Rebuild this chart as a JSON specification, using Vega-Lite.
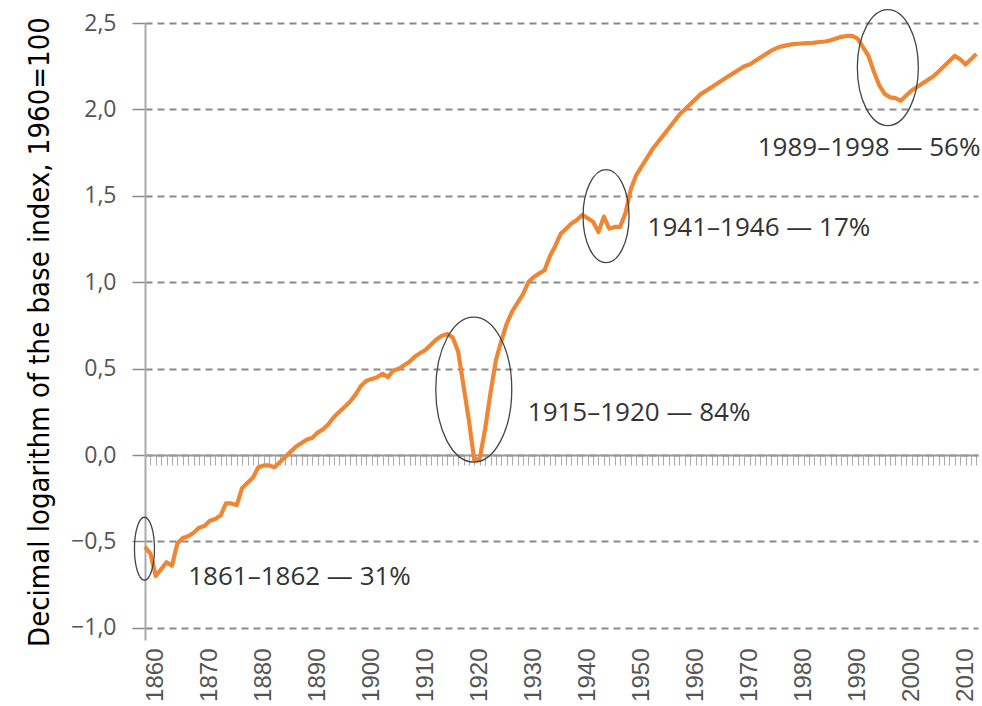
{
  "$schema": "https://vega.github.io/schema/vega-lite/v6.json",
  "width": 833,
  "height": 617,
  "autosize": {"type": "none"},
  "padding": {"left": 145, "top": 23, "right": 4, "bottom": 66},
  "background": "white",
  "config": {"view": {"stroke": null}},
  "datasets": {
    "series": [
      {"year": 1858, "value": -0.53}, {"year": 1859, "value": -0.57}, {"year": 1860, "value": -0.70}, {"year": 1861, "value": -0.66},
      {"year": 1862, "value": -0.62}, {"year": 1863, "value": -0.64}, {"year": 1864, "value": -0.51}, {"year": 1865, "value": -0.48},
      {"year": 1866, "value": -0.47}, {"year": 1867, "value": -0.45}, {"year": 1868, "value": -0.42}, {"year": 1869, "value": -0.41},
      {"year": 1870, "value": -0.38}, {"year": 1871, "value": -0.37}, {"year": 1872, "value": -0.35}, {"year": 1873, "value": -0.28},
      {"year": 1874, "value": -0.28}, {"year": 1875, "value": -0.29}, {"year": 1876, "value": -0.19}, {"year": 1877, "value": -0.16},
      {"year": 1878, "value": -0.13}, {"year": 1879, "value": -0.07}, {"year": 1880, "value": -0.06}, {"year": 1881, "value": -0.06},
      {"year": 1882, "value": -0.07}, {"year": 1883, "value": -0.04}, {"year": 1884, "value": -0.01}, {"year": 1885, "value": 0.02},
      {"year": 1886, "value": 0.05}, {"year": 1887, "value": 0.07}, {"year": 1888, "value": 0.09}, {"year": 1889, "value": 0.10},
      {"year": 1890, "value": 0.13}, {"year": 1891, "value": 0.15}, {"year": 1892, "value": 0.18}, {"year": 1893, "value": 0.22},
      {"year": 1894, "value": 0.25}, {"year": 1895, "value": 0.28}, {"year": 1896, "value": 0.31}, {"year": 1897, "value": 0.35},
      {"year": 1898, "value": 0.40}, {"year": 1899, "value": 0.43}, {"year": 1900, "value": 0.44}, {"year": 1901, "value": 0.45},
      {"year": 1902, "value": 0.47}, {"year": 1903, "value": 0.45}, {"year": 1904, "value": 0.49}, {"year": 1905, "value": 0.50},
      {"year": 1906, "value": 0.52}, {"year": 1907, "value": 0.54}, {"year": 1908, "value": 0.57}, {"year": 1909, "value": 0.59},
      {"year": 1910, "value": 0.61}, {"year": 1911, "value": 0.64}, {"year": 1912, "value": 0.67}, {"year": 1913, "value": 0.69},
      {"year": 1914, "value": 0.70}, {"year": 1915, "value": 0.68}, {"year": 1916, "value": 0.60}, {"year": 1917, "value": 0.40},
      {"year": 1918, "value": 0.20}, {"year": 1919, "value": -0.03}, {"year": 1920, "value": -0.02}, {"year": 1921, "value": 0.15},
      {"year": 1922, "value": 0.36}, {"year": 1923, "value": 0.55}, {"year": 1924, "value": 0.66}, {"year": 1925, "value": 0.76},
      {"year": 1926, "value": 0.83}, {"year": 1927, "value": 0.88}, {"year": 1928, "value": 0.93}, {"year": 1929, "value": 1.00},
      {"year": 1930, "value": 1.03}, {"year": 1931, "value": 1.05}, {"year": 1932, "value": 1.07}, {"year": 1933, "value": 1.15},
      {"year": 1934, "value": 1.21}, {"year": 1935, "value": 1.28}, {"year": 1936, "value": 1.31}, {"year": 1937, "value": 1.34},
      {"year": 1938, "value": 1.36}, {"year": 1939, "value": 1.39}, {"year": 1940, "value": 1.37}, {"year": 1941, "value": 1.35},
      {"year": 1942, "value": 1.29}, {"year": 1943, "value": 1.38}, {"year": 1944, "value": 1.31}, {"year": 1945, "value": 1.32},
      {"year": 1946, "value": 1.32}, {"year": 1947, "value": 1.40}, {"year": 1948, "value": 1.54}, {"year": 1949, "value": 1.62},
      {"year": 1950, "value": 1.67}, {"year": 1951, "value": 1.72}, {"year": 1952, "value": 1.77}, {"year": 1953, "value": 1.81},
      {"year": 1954, "value": 1.85}, {"year": 1955, "value": 1.89}, {"year": 1956, "value": 1.93}, {"year": 1957, "value": 1.97},
      {"year": 1958, "value": 2.00}, {"year": 1959, "value": 2.03}, {"year": 1960, "value": 2.06}, {"year": 1961, "value": 2.09},
      {"year": 1962, "value": 2.11}, {"year": 1963, "value": 2.13}, {"year": 1964, "value": 2.15}, {"year": 1965, "value": 2.17},
      {"year": 1966, "value": 2.19}, {"year": 1967, "value": 2.21}, {"year": 1968, "value": 2.23}, {"year": 1969, "value": 2.25},
      {"year": 1970, "value": 2.26}, {"year": 1971, "value": 2.28}, {"year": 1972, "value": 2.30}, {"year": 1973, "value": 2.32},
      {"year": 1974, "value": 2.34}, {"year": 1975, "value": 2.355}, {"year": 1976, "value": 2.365}, {"year": 1977, "value": 2.372},
      {"year": 1978, "value": 2.378}, {"year": 1979, "value": 2.38}, {"year": 1980, "value": 2.382}, {"year": 1981, "value": 2.383},
      {"year": 1982, "value": 2.386}, {"year": 1983, "value": 2.39}, {"year": 1984, "value": 2.393}, {"year": 1985, "value": 2.40},
      {"year": 1986, "value": 2.41}, {"year": 1987, "value": 2.42}, {"year": 1988, "value": 2.425}, {"year": 1989, "value": 2.425},
      {"year": 1990, "value": 2.41}, {"year": 1991, "value": 2.36}, {"year": 1992, "value": 2.31}, {"year": 1993, "value": 2.22},
      {"year": 1994, "value": 2.14}, {"year": 1995, "value": 2.09}, {"year": 1996, "value": 2.07}, {"year": 1997, "value": 2.065},
      {"year": 1998, "value": 2.05}, {"year": 1999, "value": 2.08}, {"year": 2000, "value": 2.11}, {"year": 2001, "value": 2.13},
      {"year": 2002, "value": 2.15}, {"year": 2003, "value": 2.17}, {"year": 2004, "value": 2.19}, {"year": 2005, "value": 2.22},
      {"year": 2006, "value": 2.25}, {"year": 2007, "value": 2.28}, {"year": 2008, "value": 2.31}, {"year": 2009, "value": 2.29},
      {"year": 2010, "value": 2.26}, {"year": 2011, "value": 2.29}, {"year": 2012, "value": 2.32}
    ],
    "ellipses": [
      {"period": "1861–1862", "year": 1857.9, "value": -0.542},
      {"period": "1915–1920", "year": 1918.9, "value": 0.379},
      {"period": "1941–1946", "year": 1943.4, "value": 1.382},
      {"period": "1989–1998", "year": 1995.6, "value": 2.242}
    ],
    "notes": [
      {"label": "1861–1862 — 31%", "year": 1866.0, "value": -0.705},
      {"label": "1915–1920 — 84%", "year": 1928.9, "value": 0.243},
      {"label": "1941–1946 — 17%", "year": 1951.1, "value": 1.315},
      {"label": "1989–1998 — 56%", "year": 1971.5, "value": 1.779}
    ]
  },
  "layer": [
    {
      "data": {"name": "series"},
      "mark": {"type": "line", "color": "#EF8633", "strokeWidth": 4.2, "strokeJoin": "round"},
      "encoding": {
        "x": {
          "field": "year", "type": "quantitative",
          "scale": {"domain": [1858, 2012.3], "nice": false, "zero": false},
          "axis": {
            "orient": "bottom",
            "values": [1860, 1870, 1880, 1890, 1900, 1910, 1920, 1930, 1940, 1950, 1960, 1970, 1980, 1990, 2000, 2010],
            "format": "d", "labelAngle": 270, "labelFont": "Liberation Sans", "labelFontSize": 24,
            "labelColor": "#555555", "labelPadding": 8, "domain": false, "ticks": false, "grid": false, "title": null
          }
        },
        "y": {
          "field": "value", "type": "quantitative",
          "scale": {"domain": [-1.07, 2.5], "nice": false, "zero": false},
          "axis": {
            "values": [-1, -0.5, 0, 0.5, 1, 1.5, 2, 2.5],
            "labelExpr": "replace(format(datum.value, '.1f'), '.', ',')",
            "labelFont": "Open Sans", "labelFontSize": 23, "labelColor": "#555555", "labelPadding": 16,
            "domain": true, "domainColor": "#aaaaaa", "domainWidth": 2,
            "ticks": true, "tickSize": 13, "tickColor": "#888888", "tickWidth": 1.5,
            "grid": true, "gridColor": "#8a8a8a", "gridDash": [7, 5], "gridWidth": 1.8,
            "title": "Decimal logarithm of the base index, 1960=100",
            "titleFont": "DejaVu Sans Condensed", "titleFontSize": 29, "titleFontWeight": "normal",
            "titleColor": "#000000", "titlePadding": 16
          }
        }
      }
    },
    {
      "data": {"name": "ellipses"},
      "mark": {"type": "point", "filled": false, "opacity": 1, "color": "#444444", "strokeWidth": 1.3, "size": 10000},
      "encoding": {
        "x": {"field": "year", "type": "quantitative", "axis": null},
        "y": {"field": "value", "type": "quantitative"},
        "shape": {
          "field": "period", "type": "nominal", "legend": null,
          "scale": {
            "domain": ["1861–1862", "1915–1920", "1941–1946", "1989–1998"],
            "range": [
              "M -0.2 0 A 0.2 0.63 0 1 1 0.2 0 A 0.2 0.63 0 1 1 -0.2 0 Z",
              "M -0.76 0 A 0.76 1.45 0 1 1 0.76 0 A 0.76 1.45 0 1 1 -0.76 0 Z",
              "M -0.46 0 A 0.46 0.93 0 1 1 0.46 0 A 0.46 0.93 0 1 1 -0.46 0 Z",
              "M -0.61 0 A 0.61 1.16 0 1 1 0.61 0 A 0.61 1.16 0 1 1 -0.61 0 Z"
            ]
          }
        }
      }
    },
    {
      "data": {"name": "notes"},
      "mark": {"type": "text", "align": "left", "baseline": "middle", "font": "Open Sans", "fontSize": 26, "color": "#333333"},
      "encoding": {
        "x": {
          "field": "year", "type": "quantitative",
          "axis": {
            "orient": "bottom", "offset": -185, "labels": false, "grid": false, "title": null,
            "domain": true, "domainColor": "#999999", "domainWidth": 2,
            "ticks": true, "tickSize": 10, "tickColor": "#aaaaaa", "tickWidth": 1, "tickCount": 154
          }
        },
        "y": {"field": "value", "type": "quantitative"},
        "text": {"field": "label", "type": "nominal"}
      }
    }
  ],
  "resolve": {"axis": {"x": "independent"}}
}
